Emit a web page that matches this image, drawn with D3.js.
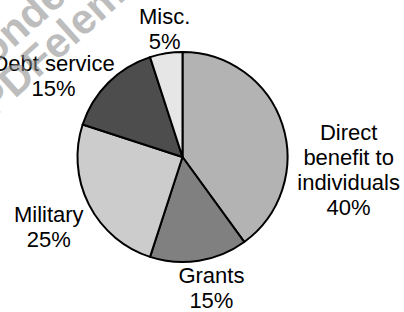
<!DOCTYPE html>
<html>
<head>
<meta charset="utf-8">
<script src="https://cdn.jsdelivr.net/npm/d3@7"></script>
<style>
  body { margin: 0; background: #fff; }
  text { font-family: "Liberation Sans", Arial, sans-serif; }
</style>
</head>
<body>
<div id="chart"></div>
<script>
// data
const categories = ["Direct benefit to individuals", "Grants", "Military", "Debt service", "Misc."];
const values = [40, 15, 25, 15, 5];
const labelLines = [["Direct", "benefit to", "individuals"], ["Grants"], ["Military"], ["Debt service"], ["Misc."]];
const percentLabels = ["40%", "15%", "25%", "15%", "5%"];
const colors = ["#b3b3b3", "#808080", "#cccccc", "#4d4d4d", "#e6e6e6"];

let width = 404, height = 312;
let cx = 182.5, cy = 157, radius = 105;

// label nudges from the label arc centroid
const nudge = [[33, 26], [7, -12], [-9, 1], [-30, 13], [4, 5]];

let svg = d3.select("#chart")
    .append("svg")
    .attr("width", width)
    .attr("height", height);

let g = svg.append("g")
    .attr("transform", "translate(" + cx + "," + cy + ")");

let pie = d3.pie().sort(null).value(d => d.value);
let data = categories.map((c, i) => ({ name: c, value: values[i], i: i }));
let arcs = pie(data);

let arc = d3.arc().innerRadius(0).outerRadius(radius);
let labelArc = d3.arc().innerRadius(140).outerRadius(140);

// slices
g.selectAll("path")
    .data(arcs)
    .enter()
    .append("path")
    .attr("d", arc)
    .attr("fill", d => colors[d.data.i])
    .attr("stroke", "#000")
    .attr("stroke-width", 2)
    .attr("stroke-linejoin", "round");

// labels
let lineH = 25;
arcs.forEach(d => {
    let i = d.data.i;
    let c = labelArc.centroid(d);
    let x = c[0] + nudge[i][0], y = c[1] + nudge[i][1];
    let lines = labelLines[i].concat([percentLabels[i]]);
    let t = g.append("text")
        .attr("text-anchor", "middle")
        .attr("font-size", 22)
        .attr("fill", "#000");
    lines.forEach((s, k) => {
        t.append("tspan").attr("x", x).attr("y", y + k * lineH).text(s);
    });
});

// watermark overlay
let wm = svg.append("g")
    .attr("fill", "#888")
    .attr("opacity", 0.55)
    .attr("font-size", 42)
    .attr("font-weight", "bold");
wm.append("text")
    .attr("transform", "translate(-35,92) rotate(-42)")
    .text("Wondershare");
wm.append("text")
    .attr("transform", "translate(-6,118) rotate(-42)")
    .text("PDFelement");
</script>
</body>
</html>
